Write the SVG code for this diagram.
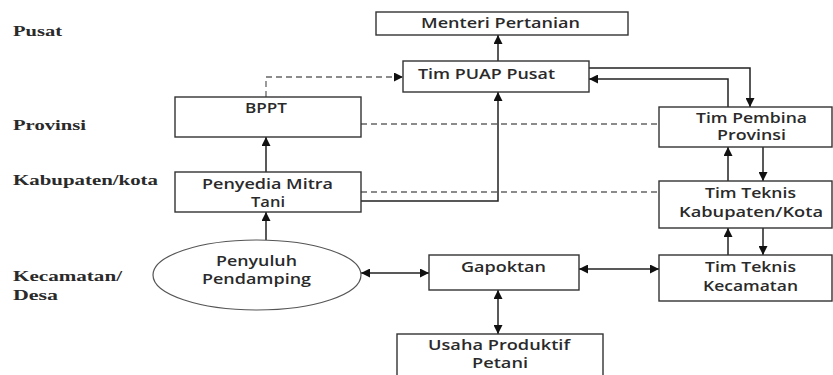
<svg xmlns="http://www.w3.org/2000/svg" width="833" height="375" viewBox="0 0 833 375">
  <style>
    .box { fill: #ffffff; stroke: #333333; stroke-width: 1.4; }
    .oval { fill: #ffffff; stroke: #555555; stroke-width: 1.2; }
    .lbl { font-family: "Open Sans", "Liberation Sans", sans-serif; font-size: 13.5px; font-weight: 600; fill: #2a2a2a; text-anchor: start; }
    .lvl { font-family: "Liberation Serif", serif; font-size: 15px; font-weight: bold; fill: #2a2a2a; }
    .ln { fill: none; stroke: #222222; stroke-width: 1.5; }
    .dash { fill: none; stroke: #666666; stroke-width: 1.3; stroke-dasharray: 6 4; }
  </style>
  <defs>
    <marker id="arr" viewBox="0 0 10 10" refX="10" refY="5" markerUnits="userSpaceOnUse" markerWidth="9" markerHeight="9" orient="auto-start-reverse">
      <path d="M0,0 L10,5 L0,10 z" fill="#111111"/>
    </marker>
  </defs>

  <!-- administrative levels -->
  <g id="levels">
    <text class="lvl" x="13" y="36" textLength="49" lengthAdjust="spacingAndGlyphs">Pusat</text>
    <text class="lvl" x="13" y="130" textLength="73" lengthAdjust="spacingAndGlyphs">Provinsi</text>
    <text class="lvl" x="13" y="185" textLength="145" lengthAdjust="spacingAndGlyphs">Kabupaten/kota</text>
    <text class="lvl" x="13" y="281" textLength="109" lengthAdjust="spacingAndGlyphs">Kecamatan/</text>
    <text class="lvl" x="13" y="300" textLength="45" lengthAdjust="spacingAndGlyphs">Desa</text>
  </g>

  <!-- connectors -->
  <g id="connectors">
    <path class="ln" d="M498,61 V35" marker-end="url(#arr)"/>
    <path class="dash" d="M266,97 V77 H403" marker-end="url(#arr)"/>
    <path class="dash" d="M361,124 H676"/>
    <path class="dash" d="M361,192 H659"/>
    <path class="ln" d="M361,201 H498 V92" marker-end="url(#arr)"/>
    <path class="ln" d="M589,68 H750 V107" marker-end="url(#arr)"/>
    <path class="ln" d="M728,107 V79 H589" marker-end="url(#arr)"/>
    <path class="ln" d="M728,181 V147" marker-end="url(#arr)"/>
    <path class="ln" d="M763,147 V181" marker-end="url(#arr)"/>
    <path class="ln" d="M728,255 V228" marker-end="url(#arr)"/>
    <path class="ln" d="M763,228 V255" marker-end="url(#arr)"/>
    <path class="ln" d="M266,240 V212" marker-end="url(#arr)"/>
    <path class="ln" d="M266,172 V137" marker-end="url(#arr)"/>
    <path class="ln" d="M361,273 H429" marker-start="url(#arr)" marker-end="url(#arr)"/>
    <path class="ln" d="M579,269 H659" marker-start="url(#arr)" marker-end="url(#arr)"/>
    <path class="ln" d="M498,290 V334" marker-start="url(#arr)" marker-end="url(#arr)"/>
  </g>

  <g id="menteri">
    <rect class="box" x="376" y="12" width="252" height="23"/>
    <text class="lbl" x="421" y="28" textLength="159" lengthAdjust="spacingAndGlyphs">Menteri Pertanian</text>
  </g>

  <g id="puap-pusat">
    <rect class="box" x="403" y="61" width="186" height="31"/>
    <text class="lbl" x="418" y="79" textLength="137" lengthAdjust="spacingAndGlyphs">Tim PUAP Pusat</text>
  </g>

  <g id="bppt">
    <rect class="box" x="175" y="97" width="186" height="40"/>
    <text class="lbl" x="245" y="113" textLength="42" lengthAdjust="spacingAndGlyphs">BPPT</text>
  </g>

  <g id="penyedia">
    <rect class="box" x="175" y="172" width="186" height="40"/>
    <text class="lbl" x="202" y="189" textLength="131" lengthAdjust="spacingAndGlyphs">Penyedia Mitra</text>
    <text class="lbl" x="251" y="207" textLength="34" lengthAdjust="spacingAndGlyphs">Tani</text>
  </g>

  <g id="penyuluh">
    <ellipse class="oval" cx="257" cy="275" rx="104" ry="35"/>
    <text class="lbl" x="216" y="266" textLength="81" lengthAdjust="spacingAndGlyphs">Penyuluh</text>
    <text class="lbl" x="202" y="284" textLength="109" lengthAdjust="spacingAndGlyphs">Pendamping</text>
  </g>

  <g id="gapoktan">
    <rect class="box" x="429" y="255" width="150" height="35"/>
    <text class="lbl" x="461" y="272" textLength="85" lengthAdjust="spacingAndGlyphs">Gapoktan</text>
  </g>

  <g id="usaha">
    <rect class="box" x="397" y="334" width="206" height="50"/>
    <text class="lbl" x="428" y="350" textLength="142" lengthAdjust="spacingAndGlyphs">Usaha Produktif</text>
    <text class="lbl" x="472" y="368" textLength="56" lengthAdjust="spacingAndGlyphs">Petani</text>
  </g>

  <g id="pembina">
    <rect class="box" x="659" y="107" width="173" height="40"/>
    <text class="lbl" x="696" y="123" textLength="111" lengthAdjust="spacingAndGlyphs">Tim Pembina</text>
    <text class="lbl" x="717" y="140" textLength="69" lengthAdjust="spacingAndGlyphs">Provinsi</text>
  </g>

  <g id="teknis-kab">
    <rect class="box" x="659" y="181" width="173" height="47"/>
    <text class="lbl" x="705" y="198" textLength="91" lengthAdjust="spacingAndGlyphs">Tim Teknis</text>
    <text class="lbl" x="679" y="217" textLength="144" lengthAdjust="spacingAndGlyphs">Kabupaten/Kota</text>
  </g>

  <g id="teknis-kec">
    <rect class="box" x="659" y="255" width="173" height="46"/>
    <text class="lbl" x="705" y="272" textLength="91" lengthAdjust="spacingAndGlyphs">Tim Teknis</text>
    <text class="lbl" x="703" y="291" textLength="95" lengthAdjust="spacingAndGlyphs">Kecamatan</text>
  </g>
</svg>
